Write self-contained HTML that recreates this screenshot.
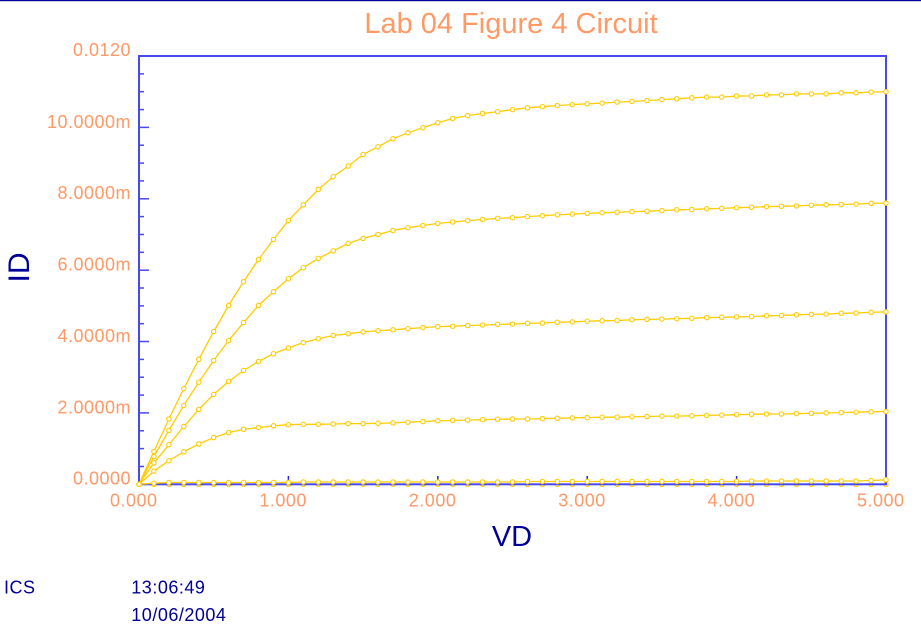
<!DOCTYPE html>
<html>
<head>
<meta charset="utf-8">
<style>
html,body{margin:0;padding:0;background:#fff;}
body{width:921px;height:632px;overflow:hidden;}
svg{display:block;}
.tl{font-family:"Liberation Sans",Arial,sans-serif;font-size:18px;fill:#ff9966;letter-spacing:0.5px;}
.nv{font-family:"Liberation Sans",Arial,sans-serif;font-size:18px;fill:#000099;letter-spacing:0.5px;}
.cv{fill:none;stroke:#ffcc00;stroke-width:1.3;marker-start:url(#m);marker-mid:url(#m);marker-end:url(#m);}
</style>
</head>
<body>
<svg width="921" height="632" viewBox="0 0 921 632" xmlns="http://www.w3.org/2000/svg">
<defs>
<marker id="m" markerUnits="userSpaceOnUse" markerWidth="8" markerHeight="8" refX="4" refY="4" viewBox="0 0 8 8">
<circle cx="4" cy="4" r="2.2" fill="#ffffff" stroke="#ffcc00" stroke-width="1.1"/>
</marker>
</defs>
<rect x="0" y="0" width="921" height="1.2" fill="#000099"/>
<text x="511" y="33" text-anchor="middle" font-family="Liberation Sans, Arial, sans-serif" font-size="29" fill="#ff9966">Lab 04 Figure 4 Circuit</text>

<!-- curve 0 (under axis) -->
<polyline class="cv" points="139,484.3 153.9,484.3 168.9,484.3 183.8,484.3 198.8,484.3 213.7,484.3 228.6,484.3 243.6,484.3 258.5,484.3 273.5,484.3 288.4,484.3 303.3,484.3 318.3,484.3 333.2,484.3 348.2,484.3 363.1,484.3 378,484.3 393,484.3 407.9,484.3 422.9,484.3 437.8,484.3 452.7,484.3 467.7,484.3 482.6,484.3 497.6,484.3 512.5,484.3 527.4,484.3 542.4,484.3 557.3,484.3 572.3,484.3 587.2,484.3 602.1,484.3 617.1,484.3 632,484.3 647,484.3 661.9,484.3 676.8,484.3 691.8,484.3 706.7,484.3 721.7,484.3 736.6,484.3 751.5,484.3 766.5,484.3 781.4,484.3 796.4,484.3 811.3,484.3 826.2,484.3 841.2,484.3 856.1,484.3 871.1,484.3 886,484.3"/>

<!-- frame -->
<rect x="139" y="56" width="747" height="428.3" fill="none" stroke="#4848f0" stroke-width="2"/>

<!-- y ticks -->
<g stroke="#4848f0" stroke-width="1.5">
<line x1="139" y1="466.5" x2="144" y2="466.5"/>
<line x1="139" y1="448.6" x2="144" y2="448.6"/>
<line x1="139" y1="430.8" x2="144" y2="430.8"/>
<line x1="139" y1="412.9" x2="149" y2="412.9"/>
<line x1="139" y1="395.1" x2="144" y2="395.1"/>
<line x1="139" y1="377.2" x2="144" y2="377.2"/>
<line x1="139" y1="359.4" x2="144" y2="359.4"/>
<line x1="139" y1="341.5" x2="149" y2="341.5"/>
<line x1="139" y1="323.7" x2="144" y2="323.7"/>
<line x1="139" y1="305.9" x2="144" y2="305.9"/>
<line x1="139" y1="288.0" x2="144" y2="288.0"/>
<line x1="139" y1="270.2" x2="149" y2="270.2"/>
<line x1="139" y1="252.3" x2="144" y2="252.3"/>
<line x1="139" y1="234.5" x2="144" y2="234.5"/>
<line x1="139" y1="216.6" x2="144" y2="216.6"/>
<line x1="139" y1="198.8" x2="149" y2="198.8"/>
<line x1="139" y1="180.9" x2="144" y2="180.9"/>
<line x1="139" y1="163.1" x2="144" y2="163.1"/>
<line x1="139" y1="145.2" x2="144" y2="145.2"/>
<line x1="139" y1="127.4" x2="149" y2="127.4"/>
<line x1="139" y1="109.6" x2="144" y2="109.6"/>
<line x1="139" y1="91.7" x2="144" y2="91.7"/>
<line x1="139" y1="73.9" x2="144" y2="73.9"/>
</g>
<!-- x ticks -->
<g stroke="#2828d0" stroke-width="1.5">
<line x1="288.4" y1="476" x2="288.4" y2="484"/>
<line x1="437.8" y1="476" x2="437.8" y2="484"/>
<line x1="587.2" y1="476" x2="587.2" y2="484"/>
<line x1="736.6" y1="476" x2="736.6" y2="484"/>
</g>

<!-- curves -->
<polyline class="cv" points="139,484.3 153.9,483.2 168.9,482.5 183.8,482.5 198.8,482.5 213.7,482.5 228.6,482.5 243.6,482.5 258.5,482.5 273.5,482.5 288.4,482.5 303.3,482 318.3,482 333.2,482 348.2,482 363.1,482 378,482 393,482 407.9,482 422.9,482 437.8,482 452.7,482 467.7,482 482.6,482 497.6,482 512.5,482 527.4,481.5 542.4,481.5 557.3,481.5 572.3,481.5 587.2,481.5 602.1,481.5 617.1,481.5 632,481.5 647,481.5 661.9,481.5 676.8,481.5 691.8,481.5 706.7,481.5 721.7,481.5 736.6,481.5 751.5,481 766.5,481 781.4,481 796.4,481 811.3,481 826.2,481 841.2,481 856.1,481 871.1,480.5 886,479.8"/>
<polyline class="cv" points="139,484.3 153.9,471.1 168.9,460.7 183.8,451.8 198.8,444.0 213.7,437.6 228.6,432.6 243.6,429.3 258.5,427.6 273.5,425.8 288.4,424.7 303.3,424.3 318.3,424.3 333.2,424.0 348.2,423.6 363.1,423.6 378,423.3 393,422.9 407.9,422.2 422.9,421.5 437.8,420.8 452.7,420.4 467.7,420.1 482.6,419.7 497.6,419.3 512.5,419.0 527.4,419.0 542.4,418.6 557.3,418.3 572.3,417.9 587.2,417.6 602.1,417.2 617.1,417.2 632,416.8 647,416.5 661.9,416.1 676.8,416.1 691.8,415.8 706.7,415.4 721.7,415.1 736.6,414.7 751.5,414.3 766.5,414.0 781.4,414.0 796.4,413.6 811.3,413.3 826.2,412.9 841.2,412.6 856.1,412.2 871.1,411.8 886,411.5"/>
<polyline class="cv" points="139,484.3 153.9,462.9 168.9,444.7 183.8,426.5 198.8,409.4 213.7,394.4 228.6,381.5 243.6,370.5 258.5,361.5 273.5,353.7 288.4,348.0 303.3,342.6 318.3,338.7 333.2,335.5 348.2,333.7 363.1,331.9 378,330.8 393,329.8 407.9,328.7 422.9,327.6 437.8,326.6 452.7,326.2 467.7,325.5 482.6,325.1 497.6,324.4 512.5,324.1 527.4,323.3 542.4,323.0 557.3,322.3 572.3,321.9 587.2,321.2 602.1,320.8 617.1,320.5 632,319.8 647,319.4 661.9,319.1 676.8,318.7 691.8,318.3 706.7,317.6 721.7,317.3 736.6,316.9 751.5,316.6 766.5,315.8 781.4,315.5 796.4,314.8 811.3,314.4 826.2,314.1 841.2,313.3 856.1,313.0 871.1,312.3 886,311.9"/>
<polyline class="cv" points="139,484.3 153.9,456.5 168.9,430.4 183.8,405.4 198.8,382.2 213.7,360.5 228.6,340.5 243.6,322.6 258.5,305.5 273.5,291.6 288.4,278.7 303.3,267.7 318.3,258.4 333.2,250.9 348.2,243.4 363.1,238.4 378,234.5 393,230.5 407.9,227.7 422.9,225.6 437.8,223.4 452.7,222.0 467.7,220.6 482.6,219.5 497.6,218.4 512.5,217.7 527.4,216.6 542.4,215.6 557.3,214.8 572.3,214.1 587.2,213.4 602.1,212.7 617.1,212.3 632,211.6 647,211.3 661.9,210.6 676.8,209.8 691.8,209.5 706.7,208.8 721.7,208.4 736.6,207.7 751.5,207.3 766.5,206.6 781.4,206.3 796.4,205.9 811.3,205.2 826.2,204.8 841.2,204.5 856.1,204.1 871.1,203.4 886,203.1"/>
<polyline class="cv" points="139,484.3 153.9,451.5 168.9,419.0 183.8,388.6 198.8,359.4 213.7,331.5 228.6,305.5 243.6,281.6 258.5,259.5 273.5,239.5 288.4,220.6 303.3,204.9 318.3,189.5 333.2,176.7 348.2,166.0 363.1,154.5 378,146.7 393,138.8 407.9,132.8 422.9,127.8 437.8,122.8 452.7,118.5 467.7,115.6 482.6,113.5 497.6,111.7 512.5,109.6 527.4,107.8 542.4,106.7 557.3,105.6 572.3,104.6 587.2,103.8 602.1,103.1 617.1,102.1 632,101.4 647,100.6 661.9,99.6 676.8,98.8 691.8,97.8 706.7,97.1 721.7,97.1 736.6,96.0 751.5,96.0 766.5,94.9 781.4,94.9 796.4,93.9 811.3,93.9 826.2,93.9 841.2,92.8 856.1,92.8 871.1,92.1 886,91.7"/>

<!-- y labels -->
<g class="tl" text-anchor="end">
<text x="131" y="56">0.0120</text>
<text x="131" y="127.8">10.0000m</text>
<text x="131" y="199.2">8.0000m</text>
<text x="131" y="270.6">6.0000m</text>
<text x="131" y="341.9">4.0000m</text>
<text x="131" y="413.3">2.0000m</text>
<text x="131" y="484.5">0.0000</text>
</g>
<!-- x labels -->
<g class="tl">
<text x="110" y="506.5">0.000</text>
<text x="259.4" y="506.5">1.000</text>
<text x="408.8" y="506.5">2.000</text>
<text x="558.2" y="506.5">3.000</text>
<text x="707.6" y="506.5">4.000</text>
<text x="857" y="506.5">5.000</text>
</g>

<text x="512" y="546" text-anchor="middle" font-family="Liberation Sans, Arial, sans-serif" font-size="29" fill="#000099">VD</text>
<text transform="translate(29,267.5) rotate(-90)" text-anchor="middle" font-family="Liberation Sans, Arial, sans-serif" font-size="30" fill="#000099">ID</text>

<text class="nv" x="4" y="593.3">ICS</text>
<text class="nv" x="131.3" y="593.3">13:06:49</text>
<text class="nv" x="131.3" y="620.8">10/06/2004</text>
</svg>
</body>
</html>
